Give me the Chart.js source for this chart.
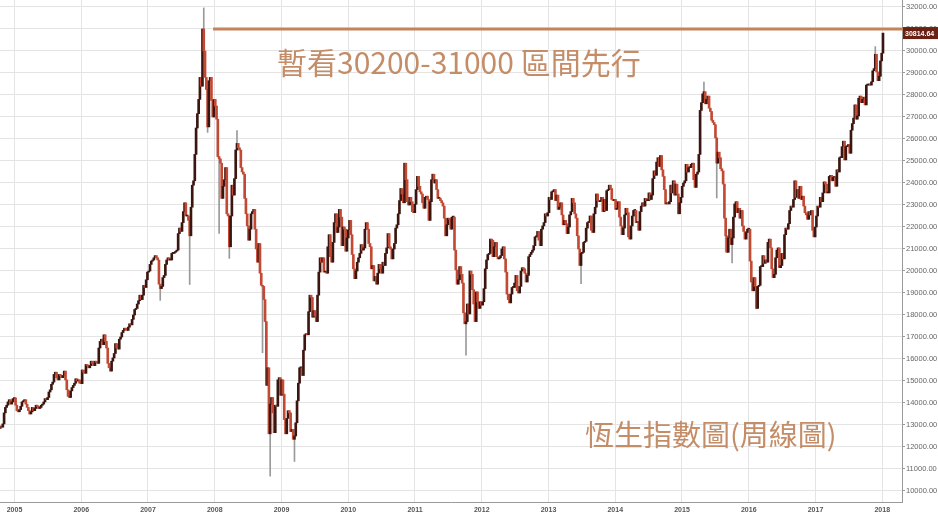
<!DOCTYPE html>
<html>
<head>
<meta charset="utf-8">
<script src="https://cdn.jsdelivr.net/npm/chart.js@4.4.1/dist/chart.umd.min.js"></script>
<style>
  html, body { margin: 0; padding: 0; background: #fff; }
  #wrap { width: 938px; height: 516px; }
</style>
</head>
<body>
<div id="wrap"><canvas id="hsi" width="938" height="516"></canvas></div>
<script>
// Hang Seng Index, weekly closes (week ending Friday)
const firstWeek = '2004-10-15';
const firstOpen = 12850;

const c2004 = [12950,12900,13050,13550,13800,13900,14050,14150,13950,14050,14200,14230];
const c2005 = [13900,13650,13600,13700, 13850,14050,14100,14150, 13950,13800,13650,13500,
  13600,13800,13650,13750,13900, 13850,13750,13800,13900, 13950,14050,14200,14150,
  14250,14500,14600,14850,14950, 15300,15400,15150,15050, 15300,15250,15150,15250,15450,
  15050,14600,14300,14250, 14550,14700,14800,14900, 15100,15000,15050,14900,14880];
const c2006 = [15500,15400,15350,15750, 15700,15600,15700,15900, 15800,15700,15900,15850,15800,
  16500,16800,16900,16650, 17100,16800,16500,15800, 15600,15450,15900,16050,16250,
  16700,16500,16450,16900, 17000,17200,17300,17400, 17350,17300,17450,17600,17550,
  17800,18000,18250,18300, 18500,18650,18900,18700, 18900,19350,19250,19600,19950];
const c2007 = [20000,20300,20450,20500, 20600,20700,20600,20500, 19400,19200,19300,19700,19800,
  20300,20500,20600,20500, 20500,20800,20800,20850, 20900,20950,21700,21950,21800,
  22200,22700,23100,22500, 22500,22300,21600,22900,23900, 24100,25300,26500,27150,
  27800,28800,28400,31000, 30000,28800,28250,26550,28650, 28800,27750,27000,27800];
const c2008 = [27500,26900,25200,25100, 24900,23300,23850,24150,24700, 22600,22500,21100,22500,
  23900,23450,24200,25500, 25800,25600,25500,24700,24500, 24400,23300,22600,22050,
  21400,21900,22600,22700, 22800,21900,21000,20400,21250, 19900,19350,19300,18700,
  17700,14800,15600,12600,13950, 14250,13550,12650,13900, 13850,15050,15150,14350];
const c2009 = [15050,14400,13250,12600,13300, 13650,13550,12700,12800, 12350,12500,13100,14100,
  14900,15600,15600,15250, 16400,17100,17150,17100,18150, 18900,18800,17900,18200,
  17950,17700,18900,19950,20600, 20400,20600,19950,19950, 19900,21100,21650,20650,
  20400,21300,22200,22600,21750, 22000,22800,22450,21150, 22000,21900,20900,21500];
const c2010 = [21870,22300,21650,20750,20100, 19650,20000,20400,20600, 20800,21200,20950,21050,
  21900,22200,21900,21250,21100, 20100,20250,19550,19750, 19400,19900,20300,20100,
  19900,20400,20250,20800,21050, 21700,21100,21000,20550, 21000,21250,21950,22100,
  22600,23200,23750,23500,23100, 24900,24150,23150,23000, 23350,23150,22700,22650,23035];
const c2011 = [23700,24300,23850,23600, 23500,23100,22850,23350, 23400,23250,22300,23150,
  24150,24400,24000,24150,23700, 23300,23300,23200,23100, 22950,22400,21600,22100,
  22400,22350,21900,22450,22450, 20950,20050,19400,19600, 20200,19850,19450,18100,17600,
  17700,18500,18050,20000, 19850,19150,18500,17700, 19050,18600,18300,18600,18450];
const c2012 = [18600,19200,20100,20500, 20750,20800,21450,21400, 20650,21100,21300,20650,20550,
  20600,20700,21000,21100, 20550,19950,18950,18700, 18550,18950,19250,19250,19450,
  19800,19100,19000,19300, 20000,20150,20100,19900,19500, 19800,20650,20750,20850,
  20950,21150,21550,21550, 21800,21400,21150,21900,22050, 22200,22600,22500,22650];
const c2013 = [23350,23250,23600,23600, 23700,23200,23450,22800, 22900,23100,22550,22100,22300,
  22150,21700,22000,22550, 22700,23300,23100,22600,22400, 21600,21000,20250,20800,
  20850,21300,21350,21950, 22200,22250,22500,21850,21750, 22600,22900,23500,23200,
  23150,23200,23350,22700, 23250,22750,23650,23700,23900, 23750,23250,23200,23250];
const c2014 = [22800,22850,23150,22450,22050, 21650,21950,22550,22850, 22650,21550,21450,22050,
  22500,22750,22750,22200, 22250,21850,22700,22950,23100, 22950,23300,23200,23200,
  23550,23250,23450,24200, 24550,24350,24950,25150,24750, 25250,24600,24300,23700,
  23050,23100,23050,23150,23900, 23550,24100,23450,23950, 23500,22600,23100,23350];
const c2015 = [23850,24000,24100,24850,24500, 24700,24700,24850,24900, 24150,23800,24400,24500,
  25300,27300,27650,28050, 28150,27600,27800,27950,27400, 27250,26850,26750,26650,
  26050,24900,25400,25150,24650, 24550,23950,22400,21600, 20850,21500,21900,21200,
  21500,22450,23050,23150,22650, 22850,22400,22750,22050, 21800,21450,21750,21900];
const c2016 = [21900,20450,19500,19100,19700, 19300,18300,19300,19350, 20200,20200,20700,20350,
  20500,20400,21300,21450,21050, 20100,19700,19850,20600, 20950,21050,20150,20250,
  20800,20550,21650,21950,21900, 22150,22750,22950,22900, 23250,24100,23350,23700,23300,
  23850,23250,23400,22950, 22650,22550,22350,22700, 22550,22750,21850,21550,22000];
const c2017 = [22500,22950,22900,23350, 23150,23550,24050,23950, 23550,23550,24300,24350,24100,
  24250,24250,23850,24600, 24500,25150,25150,25650, 25900,25050,25650,25650,25750,
  25350,26400,26700,26950, 27550,26900,27050,27850, 27950,27650,27800,27900,27550,
  28450,28450,28500,28450, 28600,29100,29200,29850, 29050,28650,28850,29550,29900];
const c2018 = [30814.64];

// weeks with a long shadow: [week, low, high]
const spikes = [
  ['2007-03-09', 18664, null], ['2007-08-17', 19386, null], ['2007-11-02', null, 31958],
  ['2007-11-23', 26300, null], ['2008-01-25', 21709, null], ['2008-03-21', 20572, null],
  ['2008-05-02', null, 26387], ['2008-09-19', 16283, null], ['2008-10-31', 10676, null],
  ['2009-03-13', 11344, null], ['2011-10-07', 16170, null], ['2013-06-28', 19426, null],
  ['2015-05-01', null, 28588], ['2015-07-10', 23319, null], ['2015-08-28', 20865, null],
  ['2015-10-02', 20368, null], ['2016-02-12', 18278, null], ['2017-11-24', null, 30200]
];

const yearTicks = [2005,2006,2007,2008,2009,2010,2011,2012,2013,2014,2015,2016,2017,2018];
const priceTicks = [10000,11000,12000,13000,14000,15000,16000,17000,18000,19000,20000,21000,
  22000,23000,24000,25000,26000,27000,28000,29000,30000,31000,32000];
const resistance = 31000;
const noteTop = '暫看30200-31000 區間先行';
const noteBottom = '恆生指數圖(周線圖)';

const UP = '#3b1610';
const DOWN = '#c24a34';
const WICK = '#9a9a9a';
const NOTE = '#c58d67';

const closes = [].concat(c2004, c2005, c2006, c2007, c2008, c2009, c2010, c2011,
  c2012, c2013, c2014, c2015, c2016, c2017, c2018);
const spikeMap = {};
spikes.forEach(s => { spikeMap[s[0]] = s; });

const start = Date.parse(firstWeek + 'T00:00:00Z');
const bodies = [], bodyColors = [], wicks = [];
let prev = firstOpen;
closes.forEach((c, i) => {
  const t = start + i * 7 * 86400000;
  const d = new Date(t);
  const yr = d.getUTCFullYear();
  const t0 = Date.UTC(yr, 0, 1), t1 = Date.UTC(yr + 1, 0, 1);
  const x = yr + (t - t0) / (t1 - t0);
  bodies.push({ x: x, y: [prev, c] });
  bodyColors.push(c >= prev ? UP : DOWN);
  const s = spikeMap[d.toISOString().slice(0, 10)];
  if (s) {
    const lo = Math.min(prev, c, s[1] == null ? c : s[1]);
    const hi = Math.max(prev, c, s[2] == null ? c : s[2]);
    wicks.push({ x: x, y: [lo, hi] });
  }
  prev = c;
});
const lastClose = closes[closes.length - 1];

const notes = {
  id: 'notes',
  afterDatasetsDraw(chart) {
    const { ctx, scales: { x, y } } = chart;
    ctx.save();
    // resistance line at 31000
    const ly = y.getPixelForValue(resistance);
    ctx.strokeStyle = '#c3845b';
    ctx.lineWidth = 3;
    ctx.beginPath();
    ctx.moveTo(x.getPixelForValue(2007.975), ly);
    ctx.lineTo(chart.width, ly);
    ctx.stroke();

    // last price tag
    const py = y.getPixelForValue(lastClose);
    ctx.fillStyle = '#6a2013';
    ctx.fillRect(y.left + 1, py - 6, 35, 12);
    ctx.fillStyle = '#fff';
    ctx.font = 'bold 7px "Liberation Sans", Arial, sans-serif';
    ctx.textBaseline = 'middle';
    ctx.textAlign = 'left';
    ctx.fillText(lastClose.toFixed(2), y.left + 3, py + 0.5);

    // annotations
    ctx.fillStyle = NOTE;
    ctx.font = '30px "Noto Sans CJK TC", sans-serif';
    ctx.fillText(noteTop, 277, 63);
    ctx.font = '29px "Noto Sans CJK TC", sans-serif';
    ctx.fillText(noteBottom, 585, 435);
    ctx.restore();
  }
};

new Chart(document.getElementById('hsi'), {
  type: 'bar',
  data: {
    datasets: [
      {
        label: 'body',
        data: bodies,
        backgroundColor: bodyColors,
        borderWidth: 0,
        barThickness: 2,
        minBarLength: 1,
        grouped: false,
        order: 1
      },
      {
        label: 'wick',
        data: wicks,
        backgroundColor: WICK,
        borderWidth: 0,
        barThickness: 1,
        grouped: false,
        order: 2
      }
    ]
  },
  options: {
    responsive: false,
    animation: false,
    layout: { padding: 0 },
    plugins: {
      legend: { display: false },
      tooltip: { enabled: false }
    },
    scales: {
      x: {
        type: 'linear',
        offset: false,
        min: 2004.783,
        max: 2018.296,
        afterBuildTicks: s => { s.ticks = yearTicks.map(v => ({ value: v })); },
        afterFit: s => { s.height = 14; s.paddingLeft = 0; s.paddingRight = 0; },
        grid: { color: '#e4e4e4', drawTicks: false, offset: false },
        border: { color: '#9a9a9a' },
        ticks: {
          padding: 4,
          maxRotation: 0,
          autoSkip: false,
          color: '#555',
          font: { size: 7, weight: 'bold', family: '"Liberation Sans", Arial, sans-serif' },
          callback: v => String(v)
        }
      },
      y: {
        position: 'right',
        min: 9500,
        max: 32318,
        afterBuildTicks: s => { s.ticks = priceTicks.map(v => ({ value: v })); },
        afterFit: s => { s.width = 36; s.paddingTop = 0; s.paddingBottom = 0; },
        grid: { color: '#e4e4e4', tickLength: 3, tickColor: '#9a9a9a' },
        border: { color: '#9a9a9a' },
        ticks: {
          padding: 1,
          color: '#666',
          font: { size: 7.5, family: '"Liberation Sans", Arial, sans-serif' },
          callback: v => v.toFixed(2)
        }
      }
    }
  },
  plugins: [notes]
});
</script>
</body>
</html>
